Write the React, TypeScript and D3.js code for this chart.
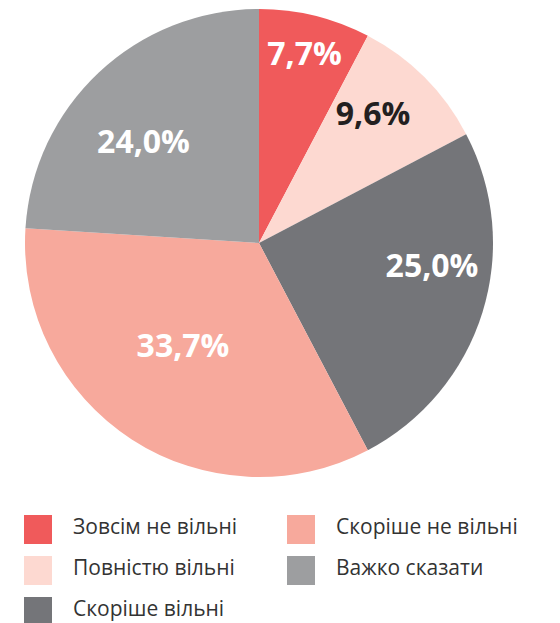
import React, { useRef, useEffect } from "react";
import * as d3 from "d3";

const categories = ["Зовсім не вільні", "Повністю вільні", "Скоріше вільні", "Скоріше не вільні", "Важко сказати"];
const values = [7.7, 9.6, 25.0, 33.7, 24.0];
const colors = ["#f05a5b", "#fdd9d1", "#747579", "#f7a99c", "#9d9ea0"];
const labelColors = ["#ffffff", "#231f20", "#ffffff", "#ffffff", "#ffffff"];
const legendOrder = [0, 3, 1, 4, 2];

const App = () => {
  const ref = useRef<SVGSVGElement>(null);

  useEffect(() => {
    if (!ref.current) return;
    const svg = d3.select(ref.current);
    svg.selectAll("*").remove();

    const cx = 259, cy = 243, r = 234;
    // hand-placed label anchors (relative to centre, text baseline)
    const labelPos = [[45.5, -178], [114, -118], [173, 34], [-76, 114], [-115.5, -90]];

    const pie = d3.pie<number>().sort(null).value((d) => d);
    const arcs = pie(values);
    const arc = d3.arc<d3.PieArcDatum<number>>().innerRadius(0).outerRadius(r);

    const g = svg.append("g").attr("transform", `translate(${cx},${cy})`);
    g.selectAll("path")
      .data(arcs)
      .enter()
      .append("path")
      .attr("d", arc)
      .attr("fill", (d, i) => colors[i]);

    g.selectAll("text")
      .data(arcs)
      .enter()
      .append("text")
      .attr("x", (d, i) => labelPos[i][0])
      .attr("y", (d, i) => labelPos[i][1])
      .attr("text-anchor", "middle")
      .attr("font-family", "'Open Sans', sans-serif")
      .attr("font-weight", "bold")
      .attr("font-size", 32)
      .attr("fill", (d, i) => labelColors[i])
      .text((d) => d.data.toFixed(1).replace(".", ",") + "%");

    const legend = svg.append("g").attr("font-family", "'Open Sans', sans-serif");
    legendOrder.forEach((idx, k) => {
      const col = k % 2, row = Math.floor(k / 2);
      const x = 24 + col * 263, y = 515 + row * 41;
      legend.append("rect").attr("x", x).attr("y", y).attr("width", 28).attr("height", 29).attr("fill", colors[idx]);
      legend.append("text")
        .attr("x", x + 49)
        .attr("y", y + 18.5)
        .attr("font-size", 21)
        .attr("fill", "#333333")
        .text(categories[idx]);
    });
  }, []);

  return (
    <svg ref={ref} width={560} height={623} style={{ position: "absolute", left: 0, top: 0 }} />
  );
};

export default App;
